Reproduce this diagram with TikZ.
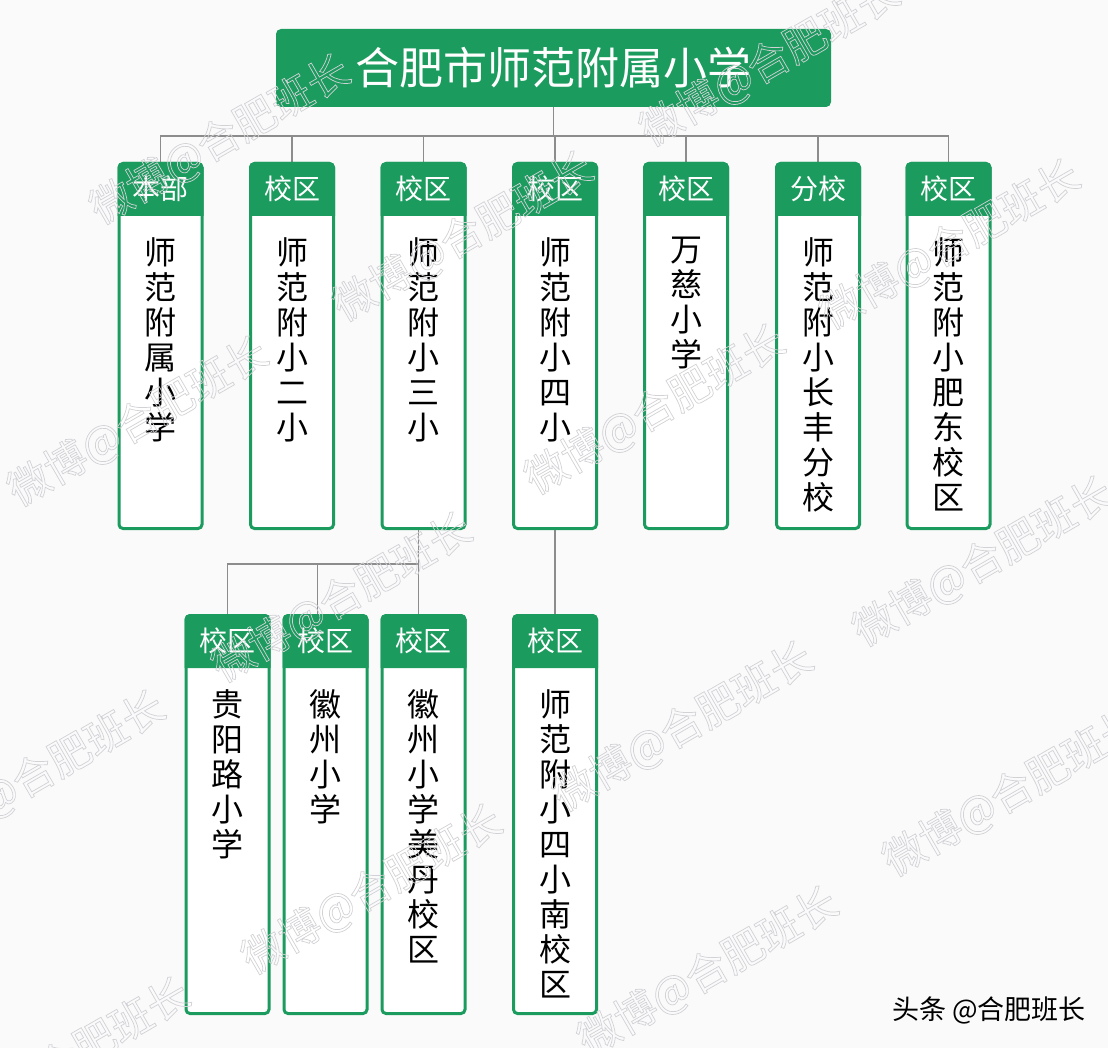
\documentclass[tikz,border=0pt]{standalone}
\usepackage{fontspec}
\newfontfamily\cjk{Noto Sans CJK SC}
\definecolor{G}{HTML}{1B9B5E}
\definecolor{conngray}{HTML}{8C8C8C}
\definecolor{bgc}{HTML}{FAFAFB}
\definecolor{wmc}{HTML}{D2D2D6}
\pgfdeclarelayer{bg}
\pgfdeclarelayer{fg}
\pgfsetlayers{bg,main,fg}
\newcommand\wmtext[1]{\special{pdf:literal direct 1 Tr 0.7 w}#1\special{pdf:literal direct 0 Tr}}
\tikzset{
  colbox/.style={draw=G, line width=3pt, fill=white, rounded corners=4pt,
    minimum width=83pt, inner sep=0pt, outer sep=0pt},
  hdrtext/.style={text=white, font=\cjk\fontsize{28}{30}\selectfont, inner sep=0pt},
  bodytext/.style={font=\cjk\fontsize{32}{35}\selectfont, align=center,
    inner sep=0pt, anchor=north},
  titlebox/.style={fill=G, rounded corners=5pt, minimum width=555pt,
    minimum height=78pt, text=white, font=\cjk\fontsize{44}{48}\selectfont,
    inner sep=0pt},
  conn/.style={draw=conngray, line width=1.5pt},
  wmark/.style={text=wmc, font=\cjk\fontsize{42}{44}\selectfont, rotate=30, inner sep=0pt},
  credit/.style={font=\cjk\fontsize{27}{30}\selectfont, anchor=east, inner sep=0pt},
}
% #1 name, #2 x centre, #3 outer top, #4 outer bottom, #5 header bottom, #6 header, #7 body
\newcommand\orgcol[7]{%
  \node[colbox, minimum height={#4-#3-3}] (#1) at (#2,{(#3+#4)/2}) {};
  \fill[G] (#2-43,#5) [rounded corners=5.5pt] -- (#2-43,#3) -- (#2+43,#3)
    [sharp corners] -- (#2+43,#5) -- cycle;
  \node[hdrtext] (#1h) at (#2,{(#3+#5)/2}) {#6};
  \node[bodytext] (#1t) at (#2,#5+21) {#7};
}
\begin{document}
\begin{tikzpicture}[x=1pt,y=-1pt]
\useasboundingbox (0,0) rectangle (1108,1048);
\begin{pgfonlayer}{bg}
  \fill[bgc] (0,0) rectangle (1108,1048);
\end{pgfonlayer}

\node[titlebox] (title) at (553.5,68) {合肥市师范附属小学};

\orgcol{b1}{160.5}{162}{530}{216}{本部}{师\\范\\附\\属\\小\\学}
\orgcol{b2}{292}{162}{530}{216}{校区}{师\\范\\附\\小\\二\\小}
\orgcol{b3}{423.5}{162}{530}{216}{校区}{师\\范\\附\\小\\三\\小}
\orgcol{b4}{555}{162}{530}{216}{校区}{师\\范\\附\\小\\四\\小}
\orgcol{b5}{686}{162}{530}{216}{校区}{万\\慈\\小\\学}
\orgcol{b6}{818}{162}{530}{216}{分校}{师\\范\\附\\小\\长\\丰\\分\\校}
\orgcol{b7}{948.5}{162}{530}{216}{校区}{师\\范\\附\\小\\肥\\东\\校\\区}

\orgcol{ba}{227.5}{614}{1015}{668}{校区}{贵\\阳\\路\\小\\学}
\orgcol{bb}{325.5}{614}{1015}{668}{校区}{徽\\州\\小\\学}
\orgcol{bc}{423.5}{614}{1015}{668}{校区}{徽\\州\\小\\学\\美\\丹\\校\\区}
\orgcol{bd}{555}{614}{1015}{668}{校区}{师\\范\\附\\小\\四\\小\\南\\校\\区}

\coordinate (bus) at (0,136);
\coordinate (bus2) at (0,564);
\begin{pgfonlayer}{bg}
  \foreach \n in {b1,b2,b3,b4,b5,b6,b7}
    \draw[conn] (title.south) -- (title.south |- bus) -| (\n.north);
  \draw[conn] ([xshift=-5pt]b3.south) -- ([xshift=-5pt]b3.south |- bus2) -| (ba.north);
  \draw[conn] ([xshift=-5pt]b3.south |- bus2) -| ([xshift=-8pt]bb.north);
  \draw[conn] ([xshift=-5pt]b3.south |- bus2) -- ([xshift=-5pt]bc.north);
  \draw[conn] (b4.south) -- (bd.north);
\end{pgfonlayer}

\node[credit] (cr) at (1086,1010) {头条 @合肥班长};

\begin{pgfonlayer}{fg}
  \node[wmark] (wm1) at (770,62) {\wmtext{微博@合肥班长}};
  \node[wmark] (wm2) at (220,140) {\wmtext{微博@合肥班长}};
  \node[wmark] (wm3) at (463,237) {\wmtext{微博@合肥班长}};
  \node[wmark] (wm4) at (950,245) {\wmtext{微博@合肥班长}};
  \node[wmark] (wm5) at (138,422) {\wmtext{微博@合肥班长}};
  \node[wmark] (wm6) at (655,410) {\wmtext{微博@合肥班长}};
  \node[wmark] (wm7) at (983,562) {\wmtext{微博@合肥班长}};
  \node[wmark] (wm8) at (35,776) {\wmtext{微博@合肥班长}};
  \node[wmark] (wm9) at (342,598) {\wmtext{微博@合肥班长}};
  \node[wmark] (wm10) at (372,890) {\wmtext{微博@合肥班长}};
  \node[wmark] (wm11) at (60,1063) {\wmtext{微博@合肥班长}};
  \node[wmark] (wm12) at (708,972) {\wmtext{微博@合肥班长}};
  \node[wmark] (wm13) at (683,727) {\wmtext{微博@合肥班长}};
  \node[wmark] (wm14) at (1013,792) {\wmtext{微博@合肥班长}};
\end{pgfonlayer}
\end{tikzpicture}
\end{document}
